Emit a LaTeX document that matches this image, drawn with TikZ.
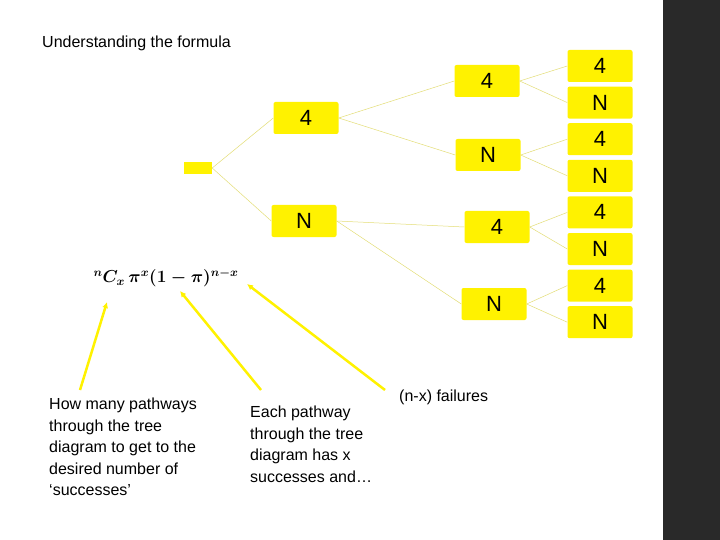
\documentclass[tikz,border=0pt]{standalone}
\usepackage{fontspec}
\setmainfont{Liberation Sans}
\usepackage{amsmath}
\usetikzlibrary{arrows.meta}
\begin{document}
\begin{tikzpicture}[x=1pt,y=-1pt,
  box/.style={fill=yellow,rounded corners=2pt,minimum width=65pt,minimum height=32pt,inner sep=0pt,font=\fontsize{22}{24}\selectfont},
  leaf/.style={box,minimum height=32pt},
  br/.style={draw=yellow!80!black!60,line width=0.5pt},
  arr/.style={draw=yellow,line width=2.5pt,-{Latex[length=6pt,width=6pt]}},
  txt/.style={font=\fontsize{16}{21.5}\selectfont,align=left,anchor=north west,inner sep=0pt}]
\useasboundingbox (0,0) rectangle (720,540);
\fill[white] (0,0) rectangle (720,540);
\fill[black!84] (663,0) rectangle (720,540);
\node[anchor=west,inner sep=0pt,font=\fontsize{16}{18}\selectfont] (title) at (42,43) {Understanding the formula};
\node[fill=yellow,minimum width=28pt,minimum height=12pt,inner sep=0pt] (r) at (198,168) {};
\node[box] (a) at (306,118) {4};
\node[box] (b) at (304,221) {N};
\node[box] (aa) at (487,81) {4};
\node[box] (ab) at (488,155) {N};
\node[box] (ba) at (497,227) {4};
\node[box] (bb) at (494,304) {N};
\foreach \i/\t in {0/4,1/N,2/4,3/N,4/4,5/N,6/4,7/N}{
  \node[leaf] (l\i) at (600,{66+\i*36.6}) {\t};
}
\draw[br] (r.east) -- (a.west); \draw[br] (r.east) -- (b.west);
\draw[br] (a.east) -- (aa.west); \draw[br] (a.east) -- (ab.west);
\draw[br] (b.east) -- (ba.west); \draw[br] (b.east) -- (bb.west);
\draw[br] (aa.east) -- (l0.west); \draw[br] (aa.east) -- (l1.west);
\draw[br] (ab.east) -- (l2.west); \draw[br] (ab.east) -- (l3.west);
\draw[br] (ba.east) -- (l4.west); \draw[br] (ba.east) -- (l5.west);
\draw[br] (bb.east) -- (l6.west); \draw[br] (bb.east) -- (l7.west);
\node[inner sep=0pt,font=\fontsize{17}{20}\selectfont] (f) at (166,278) {$\boldsymbol{{}^{n}C_{x}\,\pi^{x}(1-\pi)^{n-x}}$};
\node[txt] (t1) at (49,398) {How many pathways\\through the tree\\diagram to get to the\\desired number of\\‘successes’};
\node[txt] (t2) at (250,406) {Each pathway\\through the tree\\diagram has x\\successes and…};
\node[txt] (t3) at (399,390) {(n-x) failures};
\coordinate (s1) at (80,390); \coordinate (e1) at (107,302);
\coordinate (s2) at (261,390); \coordinate (e2) at (180,291);
\coordinate (s3) at (385,390); \coordinate (e3) at (247,284);
\draw[arr] (s1) -- (e1);
\draw[arr] (s2) -- (e2);
\draw[arr] (s3) -- (e3);
\end{tikzpicture}
\end{document}
